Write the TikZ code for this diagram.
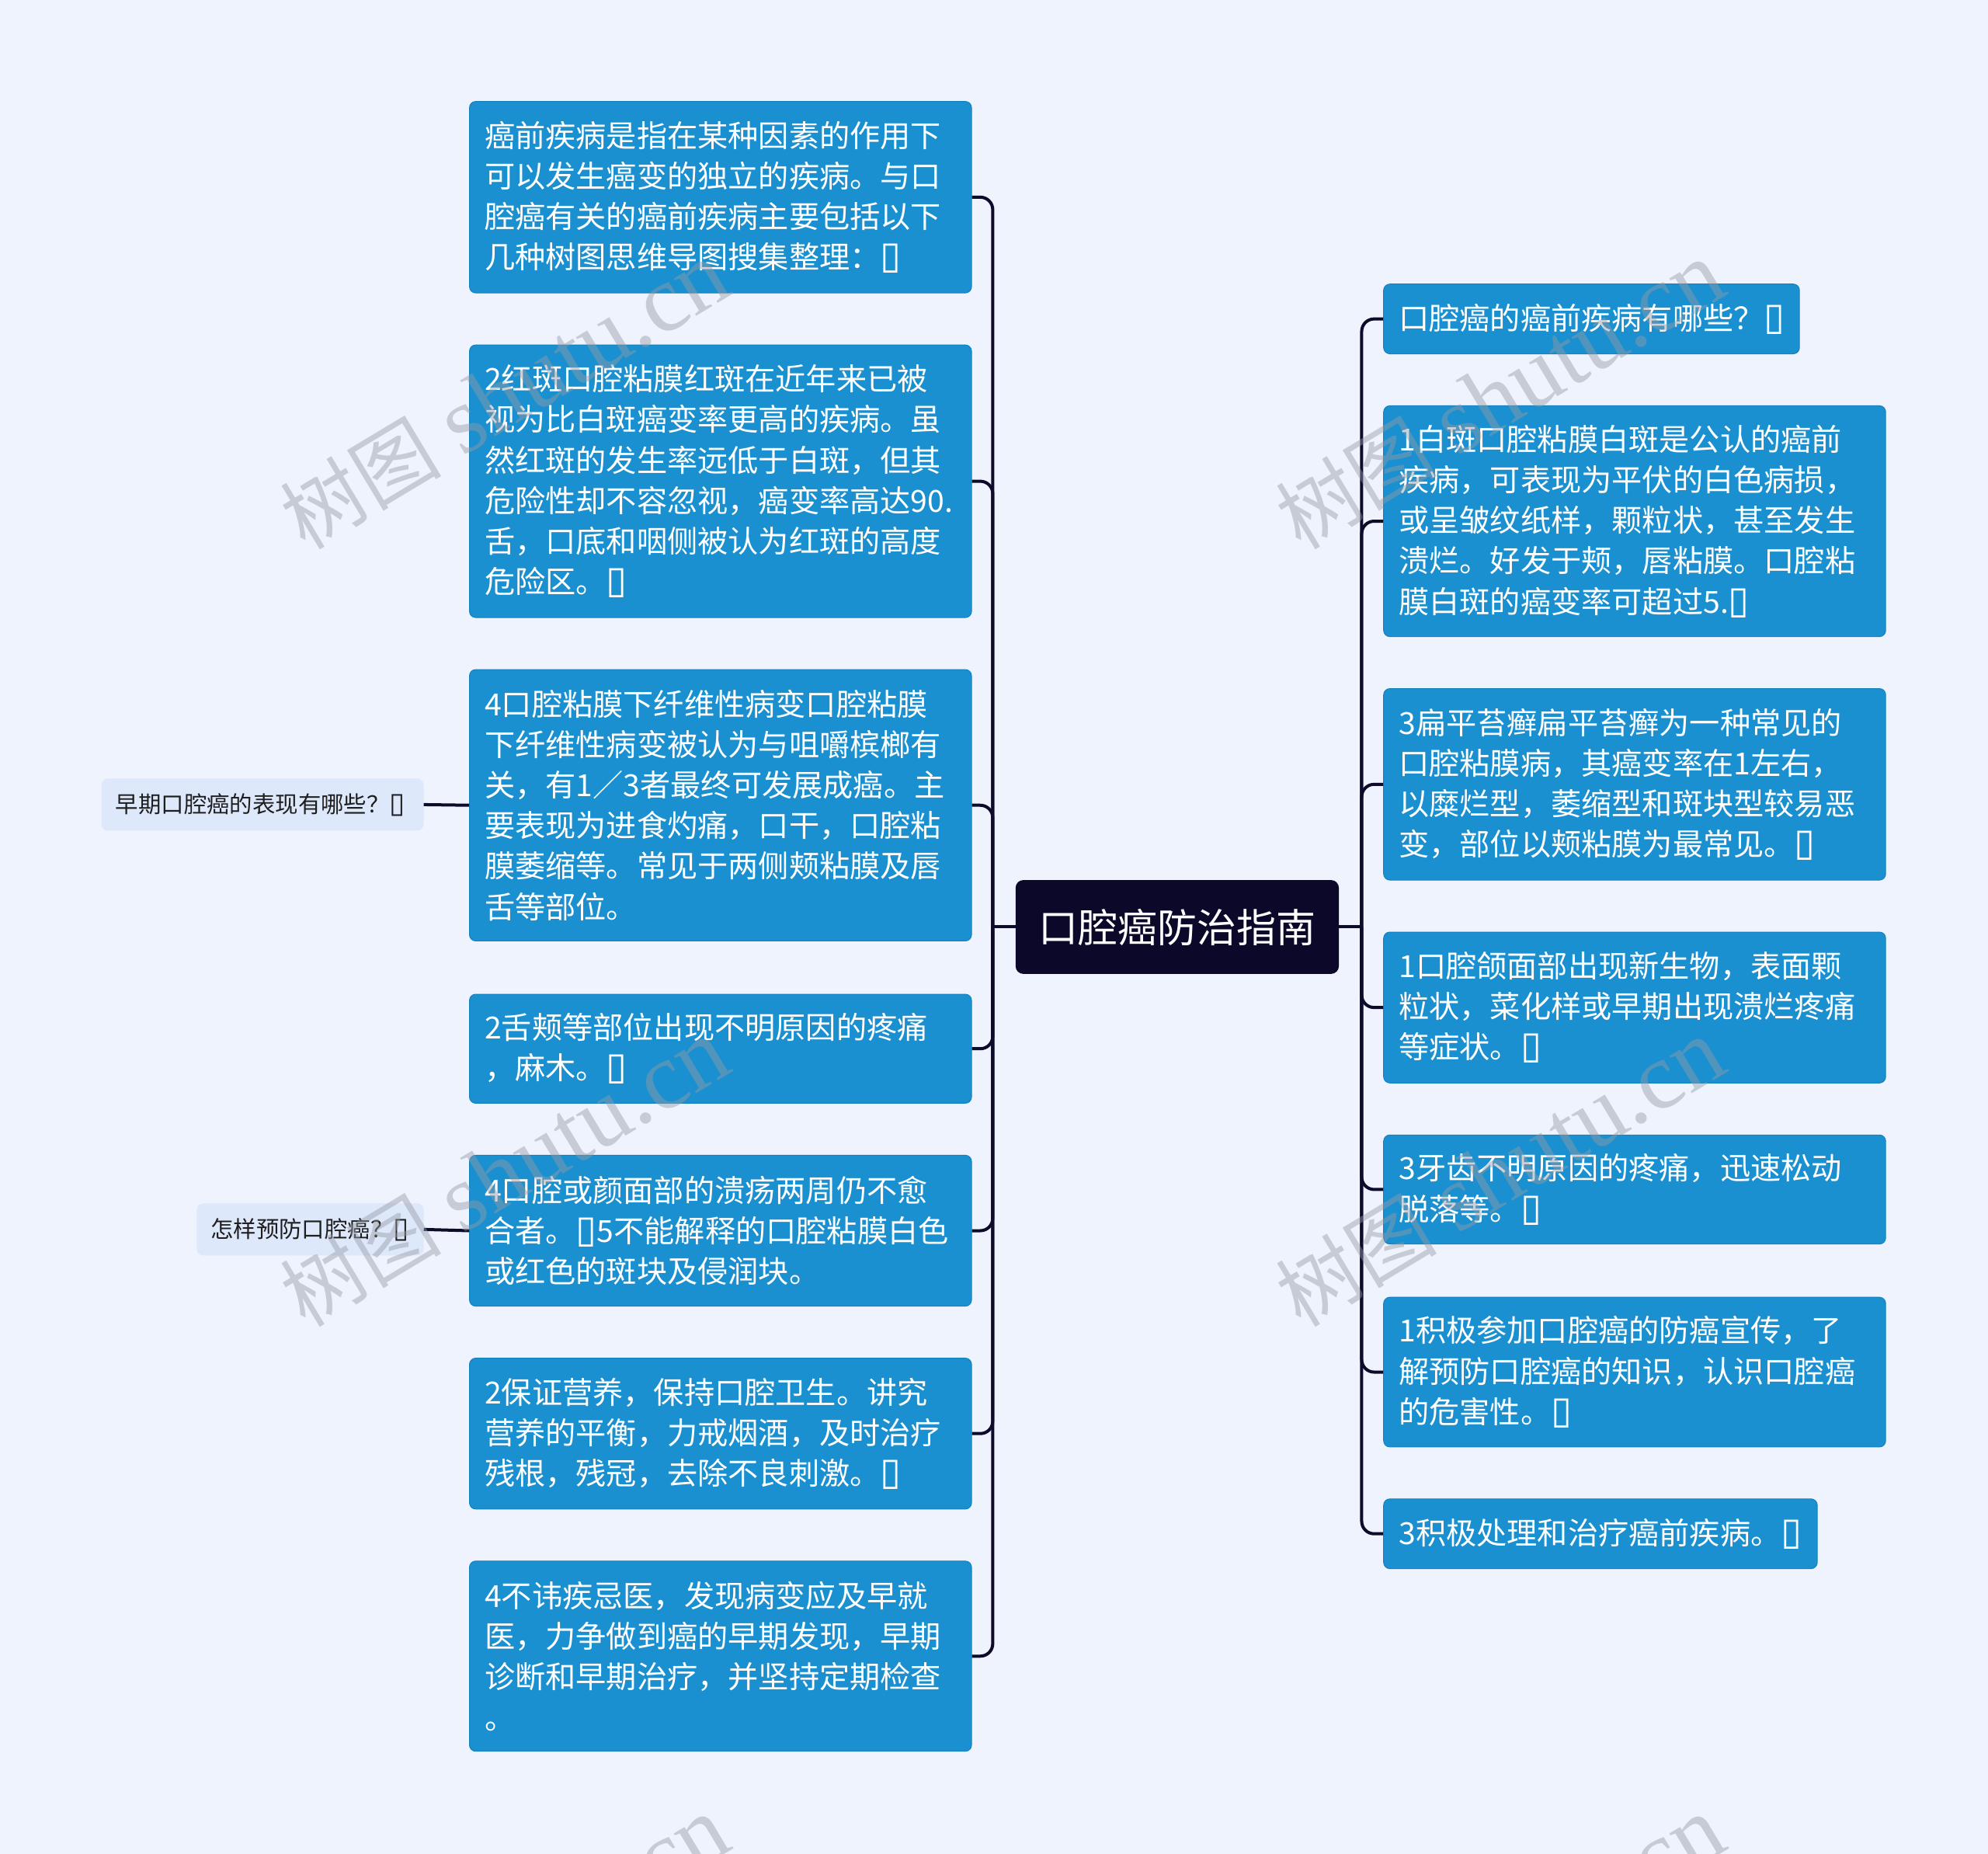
\documentclass[tikz,border=0pt]{standalone}
\usepackage{fontspec}
\setmainfont{Noto Sans CJK SC}
\newfontfamily\dvs{DejaVu Sans}
\newfontfamily\wmserif{Liberation Serif}
\newcommand\tofu{{\dvs\fontsize{1.25em}{1em}\selectfont ▯}}
\definecolor{bgc}{RGB}{238,243,253}
\definecolor{boxblue}{RGB}{26,144,208}
\definecolor{boxedge}{RGB}{22,128,188}
\definecolor{navy}{RGB}{11,8,42}
\definecolor{linec}{RGB}{14,11,42}
\definecolor{lblfill}{RGB}{222,232,251}
\definecolor{lbltext}{RGB}{30,30,30}
\definecolor{wmgray}{RGB}{150,155,165}
\begin{document}
\begin{tikzpicture}[x=1.6327pt,y=-1.6327pt,
  box/.style={rectangle, rounded corners=8pt, fill=boxblue, draw=boxedge, line width=1pt,
    text=white, align=left, inner xsep=19.6pt, inner ysep=0pt, anchor=west,
    font=\fontsize{39.2pt}{52.2pt}\selectfont},
  lbox/.style={box, text width=607.3pt},
  lbl/.style={rectangle, rounded corners=8pt, fill=lblfill, text=lbltext, align=left,
    inner xsep=18pt, inner ysep=0pt, anchor=west, minimum height=66.9pt,
    font=\fontsize{29.4pt}{36pt}\selectfont},
  root/.style={rectangle, rounded corners=10pt, fill=navy, text=white,
    minimum width=416.3pt, minimum height=120.8pt, inner sep=0pt,
    font=\fontsize{51pt}{60pt}\selectfont},
  conn/.style={draw=linec, line width=4pt, rounded corners=16pt},
  wm/.style={rotate=31, text=wmgray, opacity=0.45, font=\fontsize{122pt}{130pt}\selectfont}
]
\fill[bgc] (0,0) rectangle (1568,1462);
\useasboundingbox (0,0) rectangle (1568,1462);

% root
\node[root] (c) at (928.5,731) {口腔癌防治指南};

% left boxes
\node[lbox, minimum height=246.5pt] (l1) at (370,155.5) {癌前疾病是指在某种因素的作用下\\可以发生癌变的独立的疾病。与口\\腔癌有关的癌前疾病主要包括以下\\几种树图思维导图搜集整理：\tofu};
\node[lbox, minimum height=351pt] (l2) at (370,379.5) {2红斑口腔粘膜红斑在近年来已被\\视为比白斑癌变率更高的疾病。虽\\然红斑的发生率远低于白斑，但其\\危险性却不容忽视，癌变率高达90.\\舌，口底和咽侧被认为红斑的高度\\危险区。\tofu};
\node[lbox, minimum height=349.4pt] (l3) at (370,635) {4口腔粘膜下纤维性病变口腔粘膜\\下纤维性病变被认为与咀嚼槟榔有\\关，有1／3者最终可发展成癌。主\\要表现为进食灼痛，口干，口腔粘\\膜萎缩等。常见于两侧颊粘膜及唇\\舌等部位。};
\node[lbox, minimum height=140.4pt] (l4) at (370,827) {2舌颊等部位出现不明原因的疼痛\\，麻木。\tofu};
\node[lbox, minimum height=194.3pt] (l5) at (370,970.5) {4口腔或颜面部的溃疡两周仍不愈\\合者。\tofu 5不能解释的口腔粘膜白色\\或红色的斑块及侵润块。};
\node[lbox, minimum height=194.3pt] (l6) at (370,1130.5) {2保证营养，保持口腔卫生。讲究\\营养的平衡，力戒烟酒，及时治疗\\残根，残冠，去除不良刺激。\tofu};
\node[lbox, minimum height=244.9pt] (l7) at (370,1306) {4不讳疾忌医，发现病变应及早就\\医，力争做到癌的早期发现，早期\\诊断和早期治疗，并坚持定期检查\\。};

% small labels
\node[lbl, text width=378.7pt] (la) at (80,634.5) {早期口腔癌的表现有哪些？\tofu};
\node[lbl, text width=256.3pt] (lb) at (155,969.5) {怎样预防口腔癌？\tofu};

% right boxes
\node[box, text width=496.3pt, minimum height=89.8pt] (r1) at (1091,251.5) {口腔癌的癌前疾病有哪些？\tofu};
\node[lbox, minimum height=297.2pt] (r2) at (1091,411) {1白斑口腔粘膜白斑是公认的癌前\\疾病，可表现为平伏的白色病损，\\或呈皱纹纸样，颗粒状，甚至发生\\溃烂。好发于颊，唇粘膜。口腔粘\\膜白斑的癌变率可超过5.\tofu};
\node[lbox, minimum height=246.5pt] (r3) at (1091,618.5) {3扁平苔癣扁平苔癣为一种常见的\\口腔粘膜病，其癌变率在1左右，\\以糜烂型，萎缩型和斑块型较易恶\\变，部位以颊粘膜为最常见。\tofu};
\node[lbox, minimum height=194.3pt] (r4) at (1091,794.5) {1口腔颌面部出现新生物，表面颗\\粒状，菜化样或早期出现溃烂疼痛\\等症状。\tofu};
\node[lbox, minimum height=140.4pt] (r5) at (1091,938) {3牙齿不明原因的疼痛，迅速松动\\脱落等。\tofu};
\node[lbox, minimum height=192.7pt] (r6) at (1091,1082) {1积极参加口腔癌的防癌宣传，了\\解预防口腔癌的知识，认识口腔癌\\的危害性。\tofu};
\node[box, text width=519.2pt, minimum height=89.8pt] (r7) at (1091,1209.5) {3积极处理和治疗癌前疾病。\tofu};

% connectors
\coordinate (tl) at (783,731);
\coordinate (tr) at (1074,731);
\foreach \n in {l1,l2,l3,l4,l5,l6,l7} \draw[conn] (\n.east) -| (tl);
\draw[conn] (c.west) -- (tl);
\foreach \n in {r1,r2,r3,r4,r5,r6,r7} \draw[conn] (\n.west) -| (tr);
\draw[conn] (c.east) -- (tr);
\draw[conn] (la.east) -- (l3.west);
\draw[conn] (lb.east) -- (l5.west);

% watermarks
\foreach \wx/\wi in {398/a,1183/b}
  \foreach \wy/\wj in {312/1,925/2,1538/3}
    \node[wm] (wm\wi\wj) at (\wx,\wy) {{\fontsize{104pt}{110pt}\selectfont 树图} {\wmserif shutu.cn}};
\end{tikzpicture}
\end{document}
